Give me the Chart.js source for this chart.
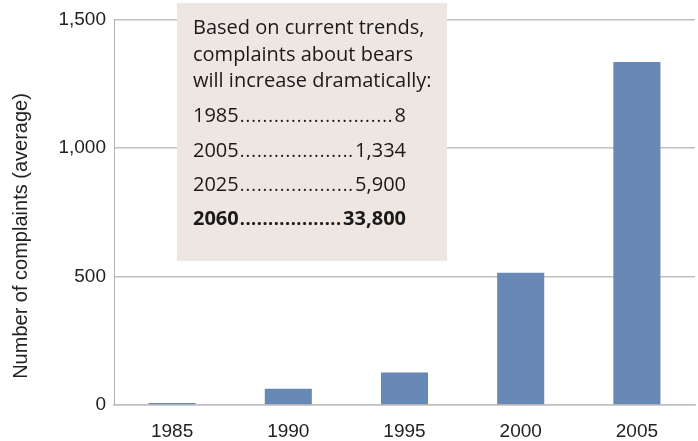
<!DOCTYPE html>
<html>
<head>
<meta charset="utf-8">
<script src="https://cdn.jsdelivr.net/npm/chart.js@4/dist/chart.umd.min.js"></script>
<style>
  html, body { margin: 0; padding: 0; background: #fff; }
  #wrap { width: 698px; height: 441px; position: relative; }
</style>
</head>
<body>
<div id="wrap"><canvas id="chart"></canvas></div>
<script>
// --- Data ---
const years = ['1985', '1990', '1995', '2000', '2005'];
const complaints = [8, 63, 126, 514, 1334];
const yTicks = [0, 500, 1000, 1500];
const yTitle = 'Number of complaints (average)';

// Annotation box text
const noteLines = ['Based on current trends,', 'complaints about bears', 'will increase dramatically:'];
const projYears = ['1985', '2005', '2025', '2060'];
const projValues = ['8', '1,334', '5,900', '33,800'];

const FONT = '"Liberation Sans", Arial, sans-serif';
const NOTE_FONT = '"Open Sans", "Liberation Sans", sans-serif';

// --- Y title drawn by hand (offset below the plot centre like the original) ---
const titlePlugin = {
    id: 'ytitle',
    afterDraw(chart) {
        const ctx = chart.ctx;
        ctx.save();
        ctx.translate(21, 236);
        ctx.rotate(-Math.PI / 2);
        ctx.fillStyle = '#222';
        ctx.font = '20px ' + FONT;
        ctx.textAlign = 'center';
        ctx.textBaseline = 'middle';
        ctx.fillText(yTitle, 0, 0);
        ctx.restore();
    }
};

// --- Annotation plugin: beige box with projections ---
const notePlugin = {
    id: 'note',
    afterDatasetsDraw(chart) {
        const ctx = chart.ctx;
        ctx.save();
        ctx.fillStyle = '#ede6e1';
        ctx.fillRect(177, 3, 270, 258);
        ctx.fillStyle = '#1a1a1a';
        ctx.textBaseline = 'alphabetic';
        ctx.font = '20px ' + NOTE_FONT;
        ctx.textAlign = 'left';
        const left = 193, right = 406;
        const baseY = [34, 61, 87];
        noteLines.forEach((t, i) => ctx.fillText(t, left, baseY[i]));
        const projY = [122, 157, 191, 225];
        projYears.forEach((yr, i) => {
            const bold = i === projYears.length - 1;
            ctx.font = (bold ? 'bold ' : '') + '20px ' + NOTE_FONT;
            const y = projY[i];
            ctx.textAlign = 'left';
            ctx.fillText(yr, left, y);
            const yw = ctx.measureText(yr).width;
            ctx.textAlign = 'right';
            ctx.fillText(projValues[i], right, y);
            const vw = ctx.measureText(projValues[i]).width;
            // dotted leader, dots spread evenly between year and value
            ctx.font = (bold ? 'bold ' : '') + '18px ' + NOTE_FONT;
            const dw = ctx.measureText('.').width;
            const start = left + yw + 1, end = right - vw - 2;
            const n = Math.floor((end - start) / (bold ? 5.4 : 5.6));
            const step = (end - start - dw) / Math.max(n - 1, 1);
            ctx.textAlign = 'left';
            for (let k = 0; k < n; k++) ctx.fillText('.', start + k * step, y);
        });
        ctx.restore();
    }
};

new Chart(document.getElementById('chart'), {
    type: 'bar',
    data: {
        labels: years,
        datasets: [{
            data: complaints,
            backgroundColor: '#6888b5',
            categoryPercentage: 1,
            barPercentage: 0.405
        }]
    },
    options: {
        responsive: true,
        maintainAspectRatio: false,
        animation: false,
        layout: { padding: { top: 14, right: 3, bottom: 0, left: 0 } },
        plugins: { legend: { display: false }, tooltip: { enabled: false } },
        scales: {
            x: {
                grid: { display: false, drawTicks: false },
                border: { display: true, color: '#c0c0c0', width: 1.5 },
                ticks: { color: '#222', font: { family: FONT, size: 19 }, padding: 15 },
                afterFit: axis => { axis.height = 36; }
            },
            y: {
                min: 0,
                max: 1500,
                afterBuildTicks: axis => { axis.ticks = yTicks.map(v => ({ value: v })); },
                grid: { color: '#c0c0c0', lineWidth: 1.5, drawTicks: false },
                border: { display: true, color: '#b0b0b0', width: 1 },
                ticks: {
                    color: '#222',
                    font: { family: FONT, size: 19 },
                    padding: 8,
                    callback: v => v.toLocaleString('en-US')
                },
                afterFit: axis => { axis.width = 114; }
            }
        }
    },
    plugins: [notePlugin, titlePlugin]
});
</script>
</body>
</html>
